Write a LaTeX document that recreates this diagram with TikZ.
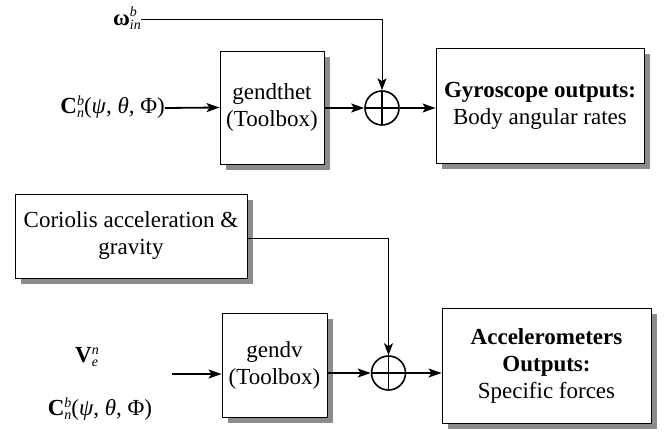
\documentclass[tikz,border=0pt]{standalone}
\usepackage{fontspec}
\setmainfont{Liberation Serif}
\usetikzlibrary{arrows.meta,shadows}
\newcommand{\supsub}[2]{\raisebox{-4pt}{\fontsize{14}{12}\selectfont\itshape\begin{tabular}[b]{@{}l@{}}#1\\#2\end{tabular}}}
\newcommand{\Cnb}{\textbf{C}\supsub{b}{n}(\textit{ψ}, \textit{θ}, Φ)}
\begin{document}
\begin{tikzpicture}[x=1pt,y=-1pt,
  font=\fontsize{23}{27}\selectfont,
  blk/.style={draw, line width=0.9pt, fill=white, align=center, inner sep=0pt,
    drop shadow={shadow xshift=6pt, shadow yshift=-6pt, fill=black!45, opacity=1}},
  sumnode/.style={circle, draw, line width=1.6pt, minimum size=34pt, inner sep=0pt,
    path picture={\draw[line width=1.4pt] (path picture bounding box.north) -- (path picture bounding box.south)
      (path picture bounding box.west) -- (path picture bounding box.east);}},
  thin/.style={line width=0.9pt, -{Stealth[length=12pt,width=9pt,inset=3pt]}},
  thick/.style={line width=1.8pt, -{Stealth[length=13pt,width=9pt,inset=3pt]}},
  lbl/.style={inner sep=0pt}]
\useasboundingbox (0,0) rectangle (668,435);
% top row
\node[blk, minimum width=104pt, minimum height=113pt] (gth) at (272,107.5) {gendthet\\(Toolbox)};
\node[blk, minimum width=208pt, minimum height=115pt] (gyro) at (540,105.5) {\textbf{Gyroscope outputs:}\\Body angular rates};
\node[sumnode] (s1) at (382,108) {};
\node[lbl, anchor=east] (om) at (141,20) {\textbf{ω}\supsub{b}{in}};
\node[lbl, anchor=east] (c1) at (165,108) {\Cnb};
\draw[thin] (om.east |- 0,19) -| (s1.north);
\draw[thick] (c1.east) -- (gth.west);
\draw[thick] (gth.east |- s1) -- (s1.west);
\draw[thick] (s1.east) -- (s1.east -| gyro.west);
% bottom row
\node[blk, minimum width=232pt, minimum height=84pt] (cor) at (131,236) {Coriolis acceleration \&\\gravity};
\node[blk, minimum width=105pt, minimum height=104pt] (gdv) at (274.5,365) {gendv\\(Toolbox)};
\node[blk, minimum width=209pt, minimum height=115pt] (acc) at (546.5,365.5) {\textbf{Accelerometers}\\\textbf{Outputs:}\\Specific forces};
\node[sumnode] (s2) at (388.5,373) {};
\node[lbl] (v) at (87,358) {\textbf{V}\supsub{n}{e}};
\node[lbl] (c2) at (100,410) {\Cnb};
\coordinate (in2) at (172,374);
\draw[thin] (cor.east |- 0,238) -| (s2.north);
\draw[thick] (in2) -- (in2 -| gdv.west);
\draw[thick] (gdv.east |- s2) -- (s2.west);
\draw[thick] (s2.east) -- (s2.east -| acc.west);
\end{tikzpicture}
\end{document}
